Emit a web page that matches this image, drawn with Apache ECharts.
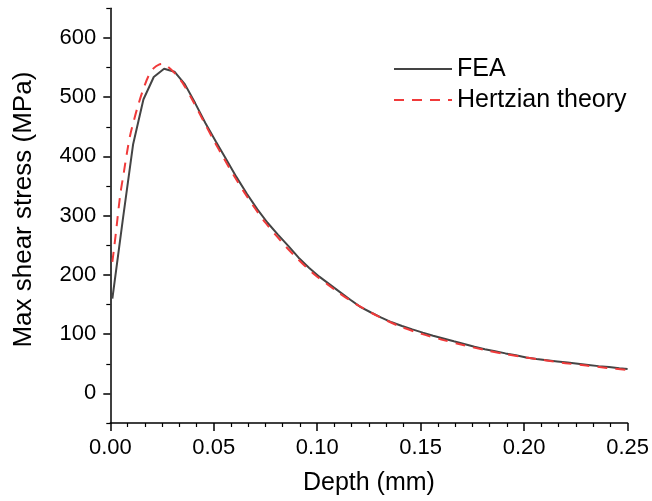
<!DOCTYPE html>
<html>
<head>
<meta charset="utf-8">
<script src="https://cdn.jsdelivr.net/npm/echarts@6/dist/echarts.min.js"></script>
<style>html,body{margin:0;padding:0;background:#fff;}#c{width:652px;height:501px;}</style>
</head>
<body>
<div id="c"></div>
<script>
// ---- data ----
const feaDepth = [0.001,0.006,0.011,0.016,0.021,0.026,0.031,0.036,0.041,0.046,0.051,0.056,0.061,0.066,0.071,0.076,0.081,0.086,0.091,0.096,0.101,0.106,0.111,0.116,0.121,0.126,0.131,0.136,0.141,0.146,0.151,0.156,0.161,0.166,0.171,0.176,0.181,0.186,0.191,0.196,0.201,0.206,0.211,0.216,0.221,0.226,0.231,0.236,0.241,0.246,0.25];
const feaStress = [160,292,420,496,534,548,543,522,490,456,425,395,365,337,311,288,268,249,229,212,197,184,171,158,145.5,136.5,128,120,113.8,108,102.6,97.4,92.7,88,83.5,78.8,74.5,71,67.5,64.5,60.5,58,56,54,52,50,48,46,44.5,42.5,41];
const hertzDepth = [0.001,0.002,0.003,0.004,0.005,0.0065,0.008,0.0095,0.0115,0.0135,0.016,0.0185,0.021,0.0235,0.0256,0.028,0.031,0.0353,0.04,0.045,0.05,0.055,0.06,0.065,0.07,0.075,0.08,0.085,0.09,0.095,0.10,0.105,0.11,0.115,0.12,0.13,0.14,0.15,0.16,0.17,0.18,0.19,0.20,0.21,0.22,0.23,0.24,0.25];
const hertzStress = [222,250,280,312,340,372,405,434,462,487,514,536,549,555,556,551,541,522,493,460,427,396,366,338,312,288,267,247,229,212,197,184,171,159,148,129,113,101,91,82,74,67,61,56,51,47,43,39.5];
const seriesNames = ['FEA', 'Hertzian theory'];
const xTicks = [0, 0.05, 0.10, 0.15, 0.20, 0.25];
const yTicks = [0, 100, 200, 300, 400, 500, 600];
const yMinorTicks = [-50, 50, 150, 250, 350, 450, 550, 650];

const FONT = "'Liberation Sans', Arial, sans-serif";
const chart = echarts.init(document.getElementById('c'), null, {renderer: 'canvas'});
const zip = (a, b) => a.map((v, i) => [v, b[i]]);

chart.setOption({
  animation: false,
  backgroundColor: '#fff',
  grid: {left: 110.3, right: 24.3, top: 8.3, bottom: 76.3, containLabel: false},
  legend: {
    orient: 'vertical', left: 393, top: 56.5, padding: 0,
    itemWidth: 58, itemHeight: 14, itemGap: 6,
    itemStyle: {opacity: 0},
    textStyle: {fontFamily: FONT, fontSize: 25, color: '#000', lineHeight: 25},
    data: seriesNames
  },
  xAxis: {
    type: 'value', min: 0, max: 0.25, interval: 0.05,
    name: 'Depth (mm)', nameLocation: 'middle', nameGap: 48,
    nameTextStyle: {fontFamily: FONT, fontSize: 25, color: '#000'},
    axisLine: {show: true, onZero: false, lineStyle: {color: '#000', width: 1.5}},
    axisTick: {show: true, length: 8, lineStyle: {color: '#000', width: 1.5}},
    minorTick: {show: true, splitNumber: 6, length: 4, lineStyle: {color: '#000', width: 1.2}},
    axisLabel: {fontFamily: FONT, fontSize: 22, color: '#000', margin: 14,
      customValues: xTicks, formatter: v => v.toFixed(2)},
    splitLine: {show: false}
  },
  yAxis: [{
    type: 'value', min: -50, max: 650,
    name: 'Max shear stress (MPa)', nameLocation: 'middle', nameGap: 73,
    nameTextStyle: {fontFamily: FONT, fontSize: 26, color: '#000', padding: [0, 0, 0, 12]},
    axisLine: {show: true, onZero: false, lineStyle: {color: '#000', width: 1.5}},
    axisTick: {show: true, length: 7, customValues: yTicks, lineStyle: {color: '#000', width: 1.5}},
    axisLabel: {fontFamily: FONT, fontSize: 22, color: '#000', margin: 14, customValues: yTicks},
    splitLine: {show: false}
  }, {
    type: 'value', min: -50, max: 650, position: 'left', offset: 0,
    axisLine: {show: false},
    axisTick: {show: true, length: 4, customValues: yMinorTicks, lineStyle: {color: '#000', width: 1.2}},
    axisLabel: {show: false},
    splitLine: {show: false}
  }],
  series: [{
    name: seriesNames[0], type: 'line', yAxisIndex: 0,
    data: zip(feaDepth, feaStress),
    showSymbol: false, symbol: 'none',
    lineStyle: {color: '#444', width: 2},
    itemStyle: {color: '#444'},
    z: 2
  }, {
    name: seriesNames[1], type: 'line', yAxisIndex: 0,
    data: zip(hertzDepth, hertzStress),
    showSymbol: false, symbol: 'none', smooth: 0.3,
    lineStyle: {color: '#f03a3a', width: 2, type: [10, 8]},
    itemStyle: {color: '#f03a3a'},
    z: 3
  }]
});
</script>
</body>
</html>
